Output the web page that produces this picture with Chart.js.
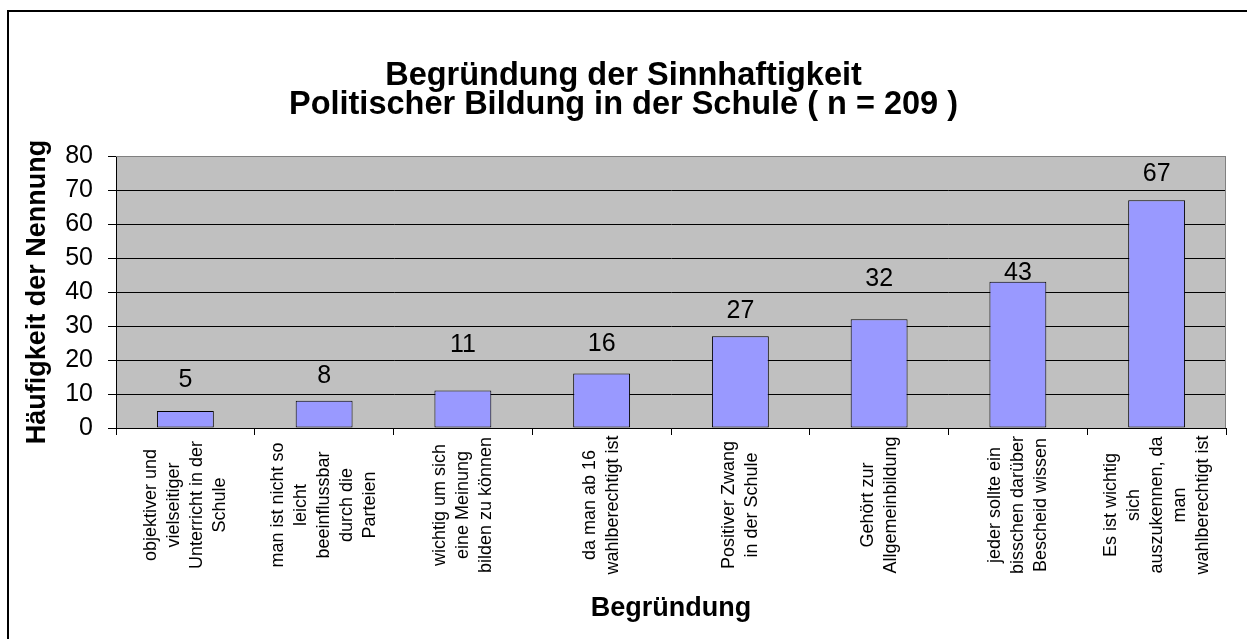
<!DOCTYPE html>
<html>
<head>
<meta charset="utf-8">
<script src="https://cdn.jsdelivr.net/npm/chart.js@4.4.0/dist/chart.umd.min.js"></script>
<style>
    body { margin: 0; background: #ffffff; overflow: hidden; }
</style>
</head>
<body>
<canvas id="chart" width="1247" height="639"></canvas>
<script>
// data
const categories = [
    ["objektiver und", "vielseitiger", "Unterricht in der", "Schule"],
    ["man ist nicht so", "leicht", "beeinflussbar", "durch die", "Parteien"],
    ["wichtig um sich", "eine Meinung", "bilden zu können"],
    ["da man ab 16", "wahlberechtigt ist"],
    ["Positiver Zwang", "in der Schule"],
    ["Gehört zur", "Allgemeinbildung"],
    ["jeder sollte ein", "bisschen darüber", "Bescheid wissen"],
    ["Es ist wichtig", "sich", "auszukennen, da", "man", "wahlberechtigt ist"]
];
const counts = [5, 8, 11, 16, 27, 32, 43, 67];
const yMin = 0;
const yMax = 80;
const yStep = 10;
const chartTitle = ["Begründung der Sinnhaftigkeit", "Politischer Bildung in der Schule ( n = 209 )"];
const yTitle = "Häufigkeit der Nennung";
const xTitle = "Begründung";

const FONT = "'Liberation Sans', Arial, sans-serif";

// value labels were moved by hand in the original, so each sits a bit differently above its bar
const labelRise = [31, 25, 45, 29, 25, 40, 9, 26];

const framePlugin = {
    id: 'frame',
    beforeDraw(chart) {
        const ctx = chart.ctx;
        const a = chart.chartArea;
        ctx.save();
        // outer frame of the whole chart
        ctx.strokeStyle = '#000000';
        ctx.lineWidth = 2;
        ctx.strokeRect(8, 11, 1300, 700);
        // grey plot area
        ctx.fillStyle = '#c0c0c0';
        ctx.fillRect(a.left, a.top, a.right - a.left, a.bottom - a.top);
        ctx.restore();
    },
    afterDatasetsDraw(chart) {
        const ctx = chart.ctx;
        const a = chart.chartArea;
        ctx.save();
        // top and right border of the plot area
        ctx.strokeStyle = '#808080';
        ctx.lineWidth = 1;
        ctx.beginPath();
        ctx.moveTo(a.left, a.top + 0.5);
        ctx.lineTo(a.right - 0.5, a.top + 0.5);
        ctx.lineTo(a.right - 0.5, a.bottom);
        ctx.stroke();

        // value labels
        ctx.fillStyle = '#000000';
        ctx.font = '25px ' + FONT;
        ctx.textAlign = 'center';
        ctx.textBaseline = 'middle';
        chart.getDatasetMeta(0).data.forEach(function (bar, i) {
            ctx.fillText(String(counts[i]), bar.x, bar.y - labelRise[i]);
        });

        // category labels, turned upright and centred line by line
        const xScale = chart.scales.x;
        const lineGap = 23;
        ctx.font = '18px ' + FONT;
        categories.forEach(function (lines, i) {
            const x = xScale.getPixelForValue(i);
            ctx.save();
            ctx.translate(x, a.bottom + 77);
            ctx.rotate(-Math.PI / 2);
            lines.forEach(function (line, j) {
                ctx.fillText(line, 0, (j - (lines.length - 1) / 2) * lineGap);
            });
            ctx.restore();
        });
        ctx.restore();
    }
};

new Chart(document.getElementById('chart'), {
    type: 'bar',
    data: {
        labels: categories,
        datasets: [{
            data: counts,
            backgroundColor: '#9999ff',
            borderColor: '#000000',
            borderWidth: 1,
            borderSkipped: false,
            barPercentage: 0.41,
            categoryPercentage: 1.0
        }]
    },
    options: {
        responsive: false,
        animation: false,
        layout: { padding: { left: 21, right: 21, top: 0, bottom: 0 } },
        plugins: {
            legend: { display: false },
            tooltip: { enabled: false },
            title: {
                display: true,
                text: chartTitle,
                color: '#000000',
                font: { family: FONT, size: 32.5, weight: 'bold', lineHeight: '29px' },
                padding: { top: 62, bottom: 36 }
            }
        },
        scales: {
            x: {
                grid: {
                    display: true,
                    offset: true,
                    drawOnChartArea: false,
                    drawTicks: true,
                    tickLength: 7,
                    color: '#000000'
                },
                border: { color: '#000000', width: 1 },
                ticks: { display: false, autoSkip: false },
                title: {
                    display: true,
                    text: xTitle,
                    color: '#000000',
                    font: { family: FONT, size: 27, weight: 'bold' },
                    padding: { top: 0, bottom: 14 }
                },
                afterFit(scale) { scale.height = 211; }
            },
            y: {
                min: yMin,
                max: yMax,
                ticks: {
                    stepSize: yStep,
                    color: '#000000',
                    padding: 15,
                    font: { family: FONT, size: 25 }
                },
                grid: {
                    color: function (c) { return c.tick && c.tick.value === yMax ? '#808080' : '#000000'; },
                    tickColor: '#000000',
                    tickLength: 8,
                    drawTicks: true
                },
                border: { color: '#000000', width: 1 },
                title: {
                    display: true,
                    text: yTitle,
                    color: '#000000',
                    font: { family: FONT, size: 27, weight: 'bold' },
                    padding: { top: 0.8, bottom: 0 }
                },
                afterFit(scale) { scale.width = 95; }
            }
        }
    },
    plugins: [framePlugin]
});
</script>
</body>
</html>
